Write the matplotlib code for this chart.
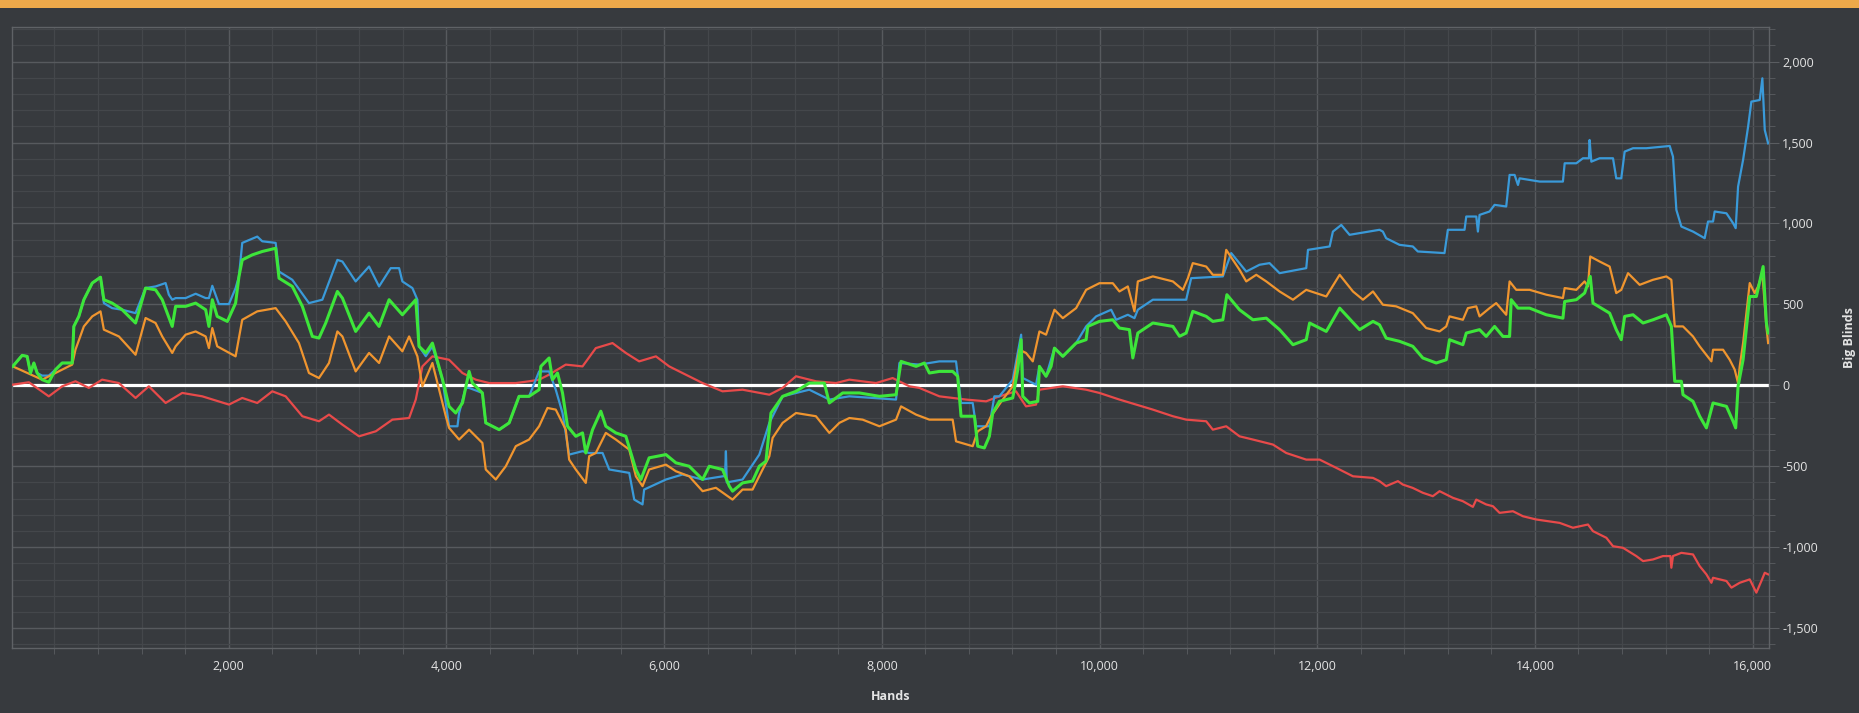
import matplotlib
matplotlib.use("Agg")
import matplotlib.pyplot as plt
from matplotlib.patches import Rectangle
from matplotlib.ticker import MultipleLocator, FuncFormatter

# --- data (hands, big blinds) ---
blue_hands = [17, 103, 149, 180, 211, 241, 287, 348, 410, 471, 563, 578, 624, 670, 747, 823, 854, 930,
              1022, 1145, 1237, 1329, 1421, 1451, 1482, 1513, 1605, 1697, 1789, 1819, 1850, 1880, 1911,
              2003, 2064, 2095, 2125, 2263, 2309, 2432, 2463, 2585, 2738, 2861, 2999, 3045, 3167, 3290,
              3382, 3489, 3566, 3596, 3688, 3734, 3749, 3811, 3872, 3965, 4025, 4102, 4117, 4178, 4209,
              4331, 4362, 4485, 4577, 4668, 4760, 4852, 4944, 5005, 5067, 5128, 5251, 5312, 5435, 5496,
              5680, 5726, 5802, 5817, 6017, 6170, 6354, 6560, 6568, 6576, 6721, 6875, 6967, 7089, 7334,
              7518, 7702, 8131, 8162, 8345, 8529, 8682, 8728, 8835, 8866, 8988, 9034, 9080, 9203, 9280,
              9295, 9417, 9448, 9509, 9586, 9663, 9785, 9877, 9969, 10107, 10153, 10260, 10321, 10352,
              10490, 10796, 10842, 11133, 11210, 11348, 11470, 11562, 11654, 11899, 11915, 12114, 12144,
              12221, 12297, 12572, 12603, 12633, 12756, 12878, 12924, 13169, 13200, 13353, 13369, 13461,
              13476, 13491, 13583, 13629, 13736, 13767, 13813, 13844, 13859, 14043, 14257, 14273, 14380,
              14441, 14496, 14502, 14518, 14594, 14717, 14747, 14793, 14824, 14901, 15023, 15238, 15268,
              15299, 15345, 15452, 15559, 15590, 15636, 15651, 15759, 15820, 15844, 15866, 15912, 15958,
              15988, 16065, 16089, 16111, 16142]
blue_bb = [117, 185, 179, 76, 138, 76, 60, 60, 97, 138, 138, 364, 426, 529, 632, 668, 508, 477,
           467, 446, 601, 611, 632, 560, 529, 539, 539, 566, 539, 539, 615, 560, 502,
           502, 601, 673, 880, 919, 890, 880, 703, 652, 508, 529, 775, 765, 642, 734,
           611, 724, 724, 642, 601, 529, 241, 180, 240, 35, -253, -253, -171, -16, -16,
           -47, -232, -274, -232, -68, -68, 86, 86, -27, -171, -428, -407, -418, -418, -520,
           -541, -706, -736, -644, -582, -551, -582, -560, -407, -600, -582, -428, -232, -68, -27,
           -88, -68, -88, 138, 128, 148, 148, -109, -109, -253, -253, -68, -68, 35, 313,
           45, 4, 117, 56, 230, 179, 261, 364, 426, 467, 405, 436, 415, 467,
           529, 529, 662, 673, 817, 703, 745, 755, 693, 724, 837, 858, 950,
           991, 930, 961, 950, 909, 868, 858, 827, 817, 961, 961, 1043, 1043,
           950, 1053, 1074, 1115, 1105, 1300, 1300, 1238, 1279, 1259, 1259, 1372, 1372,
           1403, 1403, 1516, 1382, 1403, 1403, 1279, 1279, 1444, 1465, 1465, 1479, 1413,
           1084, 981, 950, 909, 1012, 1012, 1074, 1063, 1002, 971, 1228, 1393, 1598,
           1753, 1763, 1897, 1578, 1495]

orange_hands = [17, 287, 563, 593, 670, 747, 823, 854, 992, 1145, 1237, 1329, 1390, 1482, 1513, 1605,
                1697, 1789, 1819, 1850, 1895, 2064, 2125, 2263, 2432, 2524, 2646, 2738, 2830, 2922,
                2999, 3045, 3167, 3290, 3382, 3474, 3596, 3658, 3734, 3780, 3872, 3995, 4025, 4117,
                4209, 4331, 4362, 4454, 4546, 4638, 4760, 4852, 4929, 5005, 5097, 5128, 5189, 5281,
                5312, 5373, 5465, 5557, 5680, 5741, 5802, 5863, 6017, 6109, 6231, 6354, 6476, 6629,
                6721, 6813, 6905, 6967, 6997, 7089, 7212, 7395, 7518, 7610, 7702, 7824, 7978, 8131,
                8177, 8315, 8437, 8651, 8682, 8835, 8881, 8958, 9004, 9111, 9203, 9264, 9325, 9387,
                9448, 9509, 9586, 9663, 9785, 9877, 9999, 10122, 10183, 10260, 10321, 10352, 10490,
                10674, 10766, 10812, 10857, 10980, 11041, 11133, 11164, 11286, 11348, 11440, 11532,
                11654, 11777, 11899, 12083, 12206, 12328, 12420, 12512, 12603, 12725, 12878, 13001,
                13124, 13185, 13215, 13338, 13384, 13461, 13491, 13583, 13644, 13736, 13767, 13828,
                13951, 14104, 14257, 14273, 14380, 14456, 14487, 14508, 14594, 14686, 14747, 14793,
                14855, 14962, 15084, 15207, 15253, 15284, 15360, 15452, 15513, 15621, 15636, 15728,
                15789, 15835, 15866, 15881, 15912, 15973, 16019, 16050, 16089, 16126, 16142]
orange_bb = [117, 35, 128, 220, 364, 426, 457, 344, 302, 189, 416, 385, 302, 200, 241, 313,
             333, 302, 230, 354, 241, 179, 405, 457, 477, 395, 261, 76, 45, 138,
             333, 302, 86, 200, 138, 302, 210, 302, 179, -6, 138, -191, -263, -335,
             -274, -356, -520, -582, -500, -376, -335, -253, -140, -150, -274, -459, -520, -603,
             -438, -418, -294, -335, -397, -562, -623, -520, -490, -531, -562, -654, -633, -706,
             -644, -644, -520, -438, -325, -232, -171, -191, -294, -232, -202, -212, -253, -212,
             -130, -181, -212, -212, -346, -376, -284, -253, -191, -88, -6, 220, 200, 148,
             333, 313, 467, 415, 477, 590, 631, 631, 580, 611, 457, 642, 673,
             642, 590, 662, 755, 734, 683, 683, 837, 714, 642, 683, 642,
             580, 529, 590, 549, 683, 580, 529, 580, 498, 488, 446, 354,
             333, 364, 426, 405, 477, 488, 426, 477, 508, 436, 642, 590,
             590, 560, 539, 601, 590, 642, 611, 796, 765, 734, 570, 590,
             693, 621, 652, 673, 652, 364, 364, 302, 241, 148, 220, 220,
             158, 97, 14, 117, 261, 632, 570, 611, 693, 364, 261]

green_hands = [17, 103, 149, 180, 211, 241, 287, 348, 410, 471, 563, 578, 624, 670, 747, 823, 854, 930,
               1022, 1145, 1237, 1329, 1390, 1482, 1513, 1605, 1697, 1789, 1819, 1850, 1895, 1988,
               2064, 2095, 2125, 2217, 2309, 2432, 2463, 2585, 2677, 2769, 2830, 2892, 2999, 3045,
               3167, 3290, 3382, 3474, 3596, 3719, 3749, 3811, 3872, 3965, 4025, 4086, 4148, 4209,
               4239, 4331, 4362, 4485, 4577, 4668, 4760, 4852, 4868, 4944, 4975, 5021, 5067, 5113,
               5189, 5251, 5281, 5343, 5419, 5465, 5557, 5649, 5741, 5787, 5863, 6017, 6109, 6231,
               6354, 6415, 6537, 6599, 6629, 6721, 6813, 6875, 6936, 6982, 7089, 7212, 7334, 7472,
               7518, 7641, 7794, 7978, 8131, 8177, 8315, 8391, 8437, 8529, 8651, 8697, 8728, 8851,
               8881, 8942, 8988, 9019, 9080, 9203, 9249, 9280, 9295, 9356, 9433, 9448, 9509, 9555,
               9586, 9663, 9785, 9877, 9892, 9999, 10122, 10183, 10275, 10306, 10352, 10490, 10674,
               10735, 10796, 10857, 10980, 11041, 11133, 11170, 11286, 11409, 11532, 11654, 11777,
               11899, 11930, 12083, 12206, 12389, 12512, 12572, 12633, 12756, 12878, 12970, 13093,
               13185, 13215, 13338, 13369, 13491, 13552, 13629, 13706, 13767, 13782, 13844, 13951,
               14104, 14257, 14273, 14380, 14456, 14508, 14533, 14686, 14747, 14793, 14824, 14901,
               14993, 15084, 15207, 15253, 15284, 15345, 15360, 15452, 15513, 15575, 15636, 15759,
               15820, 15844, 15866, 15912, 15973, 16034, 16096, 16126, 16142]
green_bb = [117, 185, 179, 76, 138, 76, 35, 19, 97, 138, 138, 364, 426, 529, 632, 668, 529, 508,
            467, 385, 601, 590, 529, 364, 488, 488, 508, 467, 364, 529, 426, 395,
            508, 673, 775, 806, 827, 847, 662, 611, 488, 302, 292, 385, 580, 539,
            333, 446, 364, 529, 436, 529, 241, 200, 261, 35, -130, -171, -109, 86,
            14, -47, -232, -274, -232, -68, -68, -27, 117, 169, 35, 76, -47, -253,
            -315, -294, -418, -274, -160, -253, -294, -315, -520, -582, -448, -428, -479, -500,
            -582, -500, -520, -623, -654, -603, -592, -500, -469, -171, -68, -37, 14, 14,
            -109, -47, -47, -68, -58, 148, 117, 138, 76, 86, 86, 56, -191, -191,
            -376, -387, -315, -171, -99, -78, 97, 282, -68, -109, -99, 117, 56, 117,
            230, 179, 261, 282, 364, 395, 405, 354, 344, 169, 323, 385, 364,
            303, 323, 457, 426, 395, 405, 560, 467, 405, 415, 344, 251,
            282, 385, 333, 477, 344, 395, 374, 292, 272, 241, 169, 138,
            158, 282, 251, 323, 344, 302, 364, 302, 302, 529, 477, 477,
            436, 415, 518, 529, 570, 673, 508, 446, 344, 282, 426, 436,
            385, 405, 436, 364, 25, 25, -58, -99, -191, -263, -109, -130,
            -222, -263, -6, 158, 549, 549, 734, 385, 323]

red_hands = [17, 165, 348, 471, 593, 716, 838, 992, 1145, 1267, 1421, 1574, 1758, 2003, 2125, 2263,
             2401, 2524, 2677, 2830, 2922, 3045, 3198, 3352, 3504, 3658, 3719, 3780, 3872, 4025,
             4148, 4270, 4393, 4638, 4760, 4852, 4944, 5097, 5251, 5373, 5526, 5649, 5771, 5925,
             6047, 6170, 6354, 6537, 6721, 6967, 7089, 7212, 7395, 7579, 7702, 7947, 8100, 8253,
             8345, 8529, 8774, 8958, 9080, 9233, 9325, 9417, 9448, 9663, 9877, 9999, 10183, 10337,
             10490, 10674, 10796, 10980, 11041, 11164, 11286, 11409, 11593, 11715, 11899, 12022,
             12175, 12328, 12512, 12572, 12633, 12741, 12786, 12878, 12970, 13062, 13124, 13246,
             13338, 13430, 13461, 13552, 13614, 13675, 13798, 13890, 14012, 14227, 14349, 14487,
             14533, 14656, 14717, 14809, 14931, 14993, 15084, 15176, 15244, 15253, 15268, 15345,
             15452, 15513, 15575, 15621, 15636, 15759, 15805, 15881, 15973, 16034, 16080, 16111,
             16142]
red_bb = [4, 19, -68, -6, 25, -16, 35, 14, -78, -6, -109, -47, -68, -119, -78, -109,
          -37, -68, -191, -222, -181, -243, -315, -284, -212, -202, -88, 117, 179, 158,
          76, 35, 14, 14, 25, 35, 66, 128, 117, 230, 261, 200, 148, 179,
          117, 76, 14, -37, -27, -58, -16, 56, 25, 14, 35, 14, 45, -6,
          -16, -68, -88, -99, -68, -37, -130, -119, -27, -6, -27, -47, -88, -119,
          -150, -191, -212, -222, -274, -253, -315, -335, -366, -418, -459, -459,
          -510, -562, -572, -592, -623, -592, -613, -634, -664, -685, -654, -695,
          -716, -751, -706, -736, -747, -788, -778, -809, -829, -850, -880, -860,
          -901, -942, -994, -1004, -1055, -1086, -1076, -1055, -1055, -1127, -1055, -1035,
          -1045, -1117, -1168, -1220, -1189, -1209, -1250, -1220, -1199, -1281, -1209, -1158,
          -1168]

bg = '#373a3e'
txt = '#e4e4e4'

fig = plt.figure(figsize=(18.59, 7.13), dpi=100, facecolor=bg)
ax = fig.add_axes([12 / 1859, (713 - 648) / 713, (1769 - 12) / 1859, (648 - 27) / 713])
ax.set_facecolor(bg)

# orange title strip at the very top
fig.add_artist(Rectangle((0, 1 - 8 / 713), 1, 8 / 713, transform=fig.transFigure,
                         facecolor='#eea94a', edgecolor='none'))

ax.axhline(0, color='white', lw=2.3, zorder=2)
ax.plot(red_hands, red_bb, color='#e84a4a', lw=1.6, zorder=3)
ax.plot(blue_hands, blue_bb, color='#3a9ad9', lw=1.6, zorder=4)
ax.plot(orange_hands, orange_bb, color='#f0952f', lw=1.6, zorder=5)
ax.plot(green_hands, green_bb, color='#3de63a', lw=2.2, zorder=6)

ax.set_xlim(10, 16150)
ax.set_ylim(-1623, 2214)

ax.xaxis.set_major_locator(MultipleLocator(2000))
ax.xaxis.set_minor_locator(MultipleLocator(400))
ax.yaxis.set_major_locator(MultipleLocator(500))
ax.yaxis.set_minor_locator(MultipleLocator(100))
fmt = FuncFormatter(lambda v, p: f'{int(v):,}')
ax.xaxis.set_major_formatter(fmt)
ax.yaxis.set_major_formatter(fmt)

ax.grid(which='major', color='#575a5e', lw=1.0, zorder=0)
ax.grid(which='minor', color='#44474b', lw=0.9, zorder=0)
ax.set_axisbelow(True)

ax.yaxis.tick_right()
ax.yaxis.set_label_position('right')
ax.tick_params(axis='x', which='major', length=0, pad=9, colors=txt, labelsize=9)
ax.tick_params(axis='x', which='minor', length=4, color='#5a5d61')
ax.tick_params(axis='y', which='major', length=7.5, pad=2, color='#5a5d61', colors=txt, labelsize=9)
ax.tick_params(axis='y', which='minor', length=4, color='#5a5d61')
for t in ax.get_xticklabels() + ax.get_yticklabels():
    t.set_color(txt)
ax.tick_params(axis='y', which='major', color='#5a5d61')

for s in ax.spines.values():
    s.set_color('#5f6266')
    s.set_linewidth(1.0)

ax.set_xlabel('Hands', color=txt, fontsize=9, fontweight='bold', labelpad=12)
ax.set_ylabel('Big Blinds', color=txt, fontsize=9, fontweight='bold', labelpad=18)

plt.rcParams['font.family'] = ['Open Sans', 'DejaVu Sans']
for t in ax.get_xticklabels() + ax.get_yticklabels() + [ax.xaxis.label, ax.yaxis.label]:
    t.set_family(['Open Sans', 'DejaVu Sans'])

fig.savefig('out.png', dpi=100, facecolor=bg)
